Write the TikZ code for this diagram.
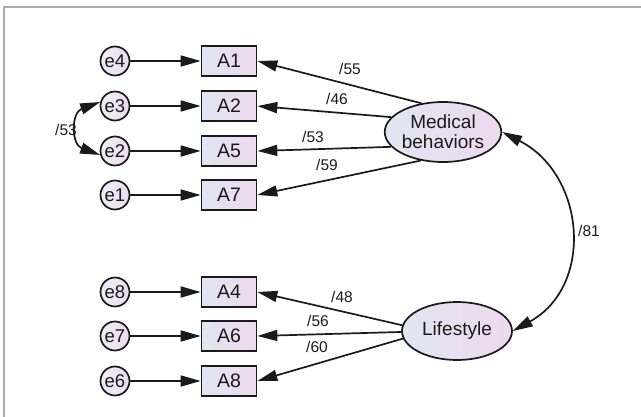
\documentclass[tikz,border=0pt]{standalone}
\usepackage{fontspec}
\setmainfont{Liberation Sans}
\usetikzlibrary{arrows.meta,shapes.geometric}
\definecolor{fillL}{HTML}{E1E5F1}
\definecolor{fillR}{HTML}{EFD9EF}
\definecolor{ink}{HTML}{1A1A1A}
\definecolor{framec}{HTML}{ABABAB}
\tikzset{
  tip/.style={-{Triangle[length=20pt,width=11pt]}},
  dtip/.style={{Triangle[length=20pt,width=11pt]}-{Triangle[length=20pt,width=11pt]}},
  conn/.style={draw=ink,line width=1.7pt},
  obsbox/.style={draw=ink,line width=1.7pt,rectangle,minimum width=55pt,minimum height=30pt,inner sep=0pt,
    left color=fillL,right color=fillR,font=\fontsize{19.5}{21}\selectfont,text=ink},
  errc/.style={draw=ink,line width=1.7pt,circle,minimum size=29pt,inner sep=0pt,
    left color=fillL!60!white,right color=fillR,font=\fontsize{18.5}{20}\selectfont,text=ink},
  latent/.style={draw=ink,line width=1.7pt,ellipse,inner sep=0pt,
    left color=fillL,right color=fillR,font=\fontsize{19}{20}\selectfont,text=ink,align=center},
  lab/.style={font=\fontsize{15.5}{17}\selectfont,text=ink,inner sep=0pt}
}
\begin{document}
\begin{tikzpicture}[x=1pt,y=-1pt]
\useasboundingbox (0,0) rectangle (641,417);
\draw[framec,line width=1.5pt] (4,417) -- (4,7) -- (641,7);
% error terms
\node[errc] (e4) at (115,61) {e4};
\node[errc] (e3) at (115,106) {e3};
\node[errc] (e2) at (115,151) {e2};
\node[errc] (e1) at (115,195) {e1};
\node[errc] (e8) at (115,292) {e8};
\node[errc] (e7) at (115,336) {e7};
\node[errc] (e6) at (115,381) {e6};
% observed
\node[obsbox] (A1) at (229,61) {A1};
\node[obsbox] (A2) at (229,106) {A2};
\node[obsbox] (A5) at (229,151) {A5};
\node[obsbox] (A7) at (229,195) {A7};
\node[obsbox] (A4) at (229,292) {A4};
\node[obsbox] (A6) at (229,336) {A6};
\node[obsbox] (A8) at (229,381) {A8};
% latent
\node[latent,minimum width=113pt,minimum height=60pt] (Med) at (443,132) {Medical\\behaviors};
\node[latent,minimum width=110pt,minimum height=58pt] (Life) at (457,331) {Lifestyle};
% error arrows
\foreach \e/\a in {e4/A1,e3/A2,e2/A5,e1/A7,e8/A4,e7/A6,e6/A8}
  \draw[conn,tip] (\e) -- (\a);
% loadings
\draw[conn,tip] (Med.127) -- (A1.east);
\draw[conn,tip] (Med.164) -- (A2.east);
\draw[conn,tip] (Med.196) -- (A5.east);
\draw[conn,tip] (Med.232) -- (A7.east);
\draw[conn,tip] (Life.174) -- (A4.east);
\draw[conn,tip] (Life.181) -- (A6.east);
\draw[conn,tip] (Life.188) -- (A8.east);
% covariances
\draw[conn,dtip] (Med.east) to[out=-27,in=29,looseness=1.2] (Life.east);
\draw[conn,dtip] (e3.165) to[out=200,in=160,looseness=1.5] (e2.195);
% labels
\node[lab] (l55) at (350,69) {/55};
\node[lab] (l46) at (337,99) {/46};
\node[lab] (l53) at (313,137) {/53};
\node[lab] (l59) at (327,165) {/59};
\node[lab] (l48) at (342,297) {/48};
\node[lab] (l56) at (318,321) {/56};
\node[lab] (l60) at (317,347) {/60};
\node[lab] (l81) at (589,231) {/81};
\node[lab] (l53b) at (66,130) {/53};
\end{tikzpicture}
\end{document}
